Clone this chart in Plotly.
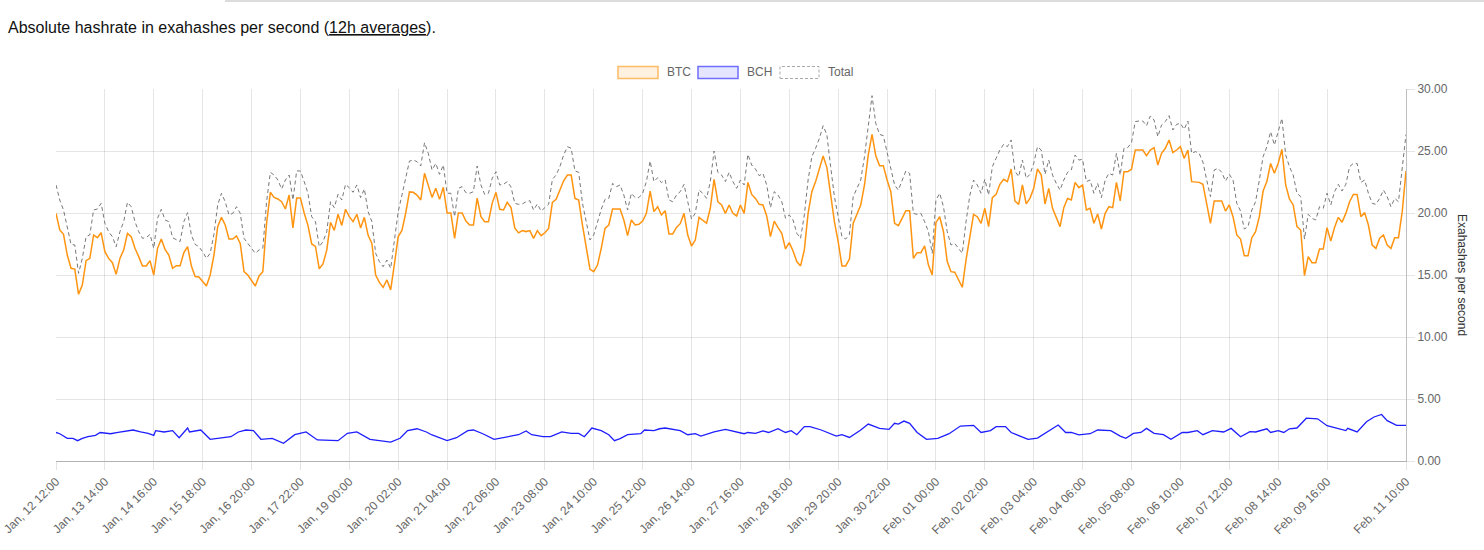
import pandas as pd
import plotly.graph_objects as go

START = "2018-01-12 12:00"

# BTC / Total sampled every 2 hours from START (hours offsets)
btc_hours = list(range(0, 719, 2))

btc = [
    19.97, 18.63, 18.28, 16.61, 15.54, 15.48, 13.44, 14.19, 16.16, 16.34,
    18.23, 18.01, 18.41, 16.88, 16.34, 15.99, 15.05, 16.34, 17.02, 18.36,
    18.09, 17.15, 16.48, 15.73, 15.73, 16.16, 15.0, 17.15, 17.9, 17.07,
    16.61, 15.54, 15.75, 15.75, 16.8, 17.28, 15.73, 14.87, 14.84, 14.46,
    14.11, 15.0, 16.61, 18.9, 19.65, 19.03, 17.9, 17.9, 18.15, 17.55,
    15.27, 15.0, 14.52, 14.11, 14.92, 15.27, 19.17, 21.67, 21.26, 21.13,
    20.91, 20.32, 21.45,
    18.8, 21.2, 21.2, 20.0, 19.0, 17.5, 17.3, 15.5, 15.9, 17.0,
    19.25, 18.6, 19.9, 19.0, 20.3, 19.7, 19.3, 19.9, 18.8, 19.65,
    18.2, 17.55, 15.0, 14.4, 14.0, 14.6, 13.8, 15.9, 18.1, 18.6,
    20.0, 21.7, 21.67, 21.45, 21.05, 23.2, 22.3, 21.26, 22.0, 21.1,
    22.07, 20.0, 20.0, 17.96, 20.0, 20.0, 19.35, 19.03, 19.03, 21.2,
    19.7, 19.3, 19.3, 20.8, 21.67, 20.3, 20.24, 20.86,
    20.43, 18.8, 18.4, 18.58, 18.5, 18.58, 17.96, 18.58, 18.17, 18.41,
    18.76, 20.86, 21.1, 21.9, 22.6, 23.06, 23.06, 21.18, 21.05, 19.03,
    17.15, 15.46, 15.27, 15.8, 17.15, 18.76, 19.03, 20.32, 20.32, 20.32,
    19.44, 18.17, 19.44, 19.03, 19.09, 19.35, 19.97, 21.77, 20.11, 20.51,
    19.84, 20.19, 18.31, 18.31, 18.84, 19.14, 19.97, 18.23, 17.34, 17.82,
    19.65, 19.44, 19.17, 20.38, 22.72, 20.91, 20.65, 19.97, 20.65, 19.97,
    19.76,
    20.65, 19.97, 22.47, 21.5, 21.18, 20.7, 20.65, 19.76, 18.09, 19.35,
    18.82, 18.36, 17.1, 17.61, 16.94, 16.08, 15.73, 17.02, 19.97, 21.72,
    22.53, 23.66, 24.6, 23.66, 21.24, 19.3, 17.69, 15.73, 15.73, 16.29,
    19.17, 19.84, 20.65, 22.26, 24.68, 26.34, 24.62, 23.82, 23.82, 22.66,
    21.72, 19.17, 18.98, 19.57, 20.19, 20.19, 16.34, 16.8, 16.8, 17.34,
    15.8, 15.0, 19.22, 19.7, 18.49, 16.08, 15.27, 15.22, 14.6, 14.01,
    16.21,
    17.9, 19.89, 19.7, 19.17, 20.38, 18.9, 21.24, 21.5, 22.31, 22.72,
    22.53, 23.55, 20.97, 20.7, 22.26, 20.73, 21.18, 21.99, 23.55, 23.06,
    20.73, 21.99, 20.38, 19.57, 18.9, 20.43, 21.18, 21.05, 22.47, 22.04,
    22.26, 20.24, 20.38, 19.17, 19.92, 18.71, 19.97, 20.51, 20.43, 22.47,
    20.97, 23.33, 23.33, 23.52, 25.08, 25.08, 25.08, 24.62, 25.08, 25.27,
    23.87, 24.81, 25.22, 25.89, 24.87, 25.08,
    25.35, 24.41, 25.08, 22.53, 22.53, 22.47, 22.31, 20.78, 19.17, 20.97,
    20.97, 20.97, 20.16, 20.65, 19.7, 18.23, 17.9, 16.56, 16.56, 18.01,
    18.49, 19.7, 21.77, 22.53, 24.0, 23.2, 24.0, 25.13, 22.26, 21.13,
    20.65, 18.9, 18.63, 14.95, 16.48, 15.99, 15.99, 17.1, 17.1, 18.82,
    17.74, 18.84, 19.65, 19.25, 19.97, 20.91, 21.5, 21.5, 19.7, 20.03,
    19.03, 17.42, 17.15, 17.96, 18.23, 17.42, 17.15, 18.01, 18.01, 20.11,
    23.39,
]

total = [
    22.26, 21.05, 20.24, 18.76, 17.47, 17.42, 15.13, 16.34, 18.09, 18.23,
    20.24, 20.32, 20.78, 19.17, 18.49, 18.09, 17.28, 18.49, 19.3, 20.86,
    20.51, 19.3, 18.49, 17.96, 18.01, 18.28, 17.15, 19.57, 20.3, 19.44,
    19.3, 18.01, 17.88, 17.69, 19.3, 20.03, 18.23, 17.47, 17.28, 16.88,
    16.34, 16.75, 18.28, 20.65, 21.59, 20.91, 19.84, 19.97, 20.51, 19.97,
    17.96, 17.55, 17.15, 16.75, 17.02, 17.15, 20.91, 23.28, 23.06, 22.66,
    21.94, 22.66, 23.06,
    21.05, 23.39, 23.39, 22.53, 21.59, 19.7, 19.3, 17.28, 17.69, 18.49,
    20.91, 20.43, 21.5, 21.05, 22.31, 22.04, 21.67, 22.26, 21.24, 21.94,
    20.11, 19.3, 16.75, 16.08, 15.67, 16.21, 15.54, 17.82, 20.11, 21.45,
    22.72, 24.19, 24.27, 24.14, 23.79, 25.67, 24.81, 23.47, 24.0, 23.12,
    23.87, 21.59, 21.59, 19.7, 21.99, 22.12, 21.64, 21.59, 21.72, 23.79,
    22.26, 21.5, 21.59, 22.8, 23.33, 22.26, 22.31, 22.53,
    22.1, 20.78, 20.7, 20.73, 20.91, 21.0, 20.24, 20.73, 20.16, 20.43,
    20.7, 22.72, 23.06, 23.74, 24.68, 25.35, 25.22, 23.39, 23.28, 20.78,
    19.35, 17.82, 18.23, 19.3, 20.3, 21.1, 21.18, 22.39, 22.12, 22.26,
    21.45, 20.24, 21.59, 21.24, 21.24, 21.59, 22.53, 24.19, 22.53, 22.85,
    22.45, 22.66, 21.05, 20.91, 21.45, 21.72, 22.31, 20.91, 19.52, 19.97,
    21.85, 21.59, 21.18, 22.53, 25.0, 23.28, 23.06, 22.53, 23.28, 22.53,
    21.99,
    22.66, 22.26, 24.73, 23.87, 23.55, 23.01, 23.2, 22.26, 20.43, 21.72,
    21.45, 20.91, 19.57, 19.84, 19.44, 18.36, 17.96, 19.84, 22.66, 24.54,
    25.22, 26.02, 27.04, 26.29, 23.74, 21.32, 19.7, 18.09, 17.9, 18.28,
    21.32, 21.99, 22.66, 24.54, 26.96, 29.46, 27.23, 26.34, 26.24, 24.95,
    23.47, 22.26, 21.85, 22.66, 23.39, 23.2, 19.97, 19.89, 19.97, 19.3,
    18.49, 16.75, 21.05, 21.59, 20.51, 18.49, 17.42, 17.55, 17.15, 16.75,
    19.3,
    21.4, 22.66, 22.26, 21.59, 22.72, 21.45, 23.74, 24.41, 25.08, 25.54,
    25.35, 25.89, 23.39, 22.93, 24.27, 22.8, 23.12, 24.0, 25.35, 25.08,
    23.12, 24.27, 23.06, 22.39, 21.85, 22.66, 23.28, 23.47, 24.68, 24.27,
    24.33, 22.53, 22.66, 21.59, 22.39, 21.24, 22.66, 23.2, 23.06, 24.81,
    23.06, 25.22, 25.27, 25.67, 27.37, 27.42, 27.42, 27.04, 27.82, 27.5,
    26.16, 27.1, 27.37, 27.85, 26.69, 27.15,
    27.23, 26.75, 27.42, 24.81, 24.95, 24.81, 24.1, 22.66, 21.32, 23.47,
    23.6, 23.28, 22.58, 23.12, 22.66, 20.78, 20.16, 18.71, 18.9, 20.24,
    20.91, 22.66, 24.54, 25.35, 26.56, 25.48, 26.56, 27.63, 24.68, 23.74,
    23.06, 21.59, 21.32, 17.9, 19.89, 19.57, 19.44, 20.51, 20.38, 21.59,
    20.65, 21.72, 22.31, 21.77, 22.31, 23.74, 24.0, 24.0, 22.47, 22.66,
    21.59, 20.78, 20.7, 21.18, 21.85, 21.32, 20.51, 21.18, 20.91, 23.39,
    26.34,
]

bch_hours = [
    0, 2, 6, 9, 11.5, 14, 17, 21, 23.5, 29, 33, 38, 41, 45, 49, 52, 53, 57.5,
    62, 65.5, 70, 71, 74, 77, 82, 88, 93, 97, 101, 105, 109, 115, 121, 127,
    133, 139, 150, 155, 160, 167, 178, 183, 187, 192, 197, 200, 208, 213,
    219, 222, 227, 233, 240, 246, 250, 253, 259, 263, 269, 274, 278, 281,
    285, 290, 294, 297, 300, 304, 311, 313, 318, 321, 324, 332, 336, 340,
    343, 350, 356, 359, 366, 368, 372, 376, 379, 384, 388, 391, 394, 398,
    401, 407, 411, 415, 418, 422, 428, 432, 438, 443, 446, 448, 451, 454,
    458, 463, 469, 475, 481, 488, 492, 497, 500, 505, 508, 517, 522, 529,
    533, 537, 540, 544, 550, 554, 561, 566, 569, 573, 577, 580, 584, 589,
    593, 599, 602, 607, 610, 615, 621, 625, 630, 635, 638, 644, 646, 650,
    653, 656, 660, 665, 671, 676, 681, 686, 687, 692, 697, 701, 705, 708,
    713, 718,
]
bch = [
    2.30, 2.2, 1.83, 1.83, 1.64, 1.83, 1.96, 2.07, 2.3, 2.2, 2.3, 2.45, 2.5,
    2.34, 2.23, 2.07, 2.45, 2.34, 2.45, 1.88, 2.66, 2.34, 2.45, 2.5, 1.75,
    1.85, 1.96, 2.34, 2.5, 2.45, 1.75, 1.83, 1.43, 2.12, 2.34, 1.7, 1.64,
    2.23, 2.34, 1.75, 1.53, 1.83, 2.45, 2.6, 2.34, 2.1, 1.64, 1.88, 2.45,
    2.5, 2.2, 1.75, 1.96, 2.12, 2.42, 2.12, 1.96, 1.96, 2.34, 2.23, 2.23,
    1.96, 2.66, 2.45, 2.12, 1.64, 1.8, 2.12, 2.2, 2.5, 2.45, 2.6, 2.66,
    2.45, 2.12, 2.2, 2.01, 2.34, 2.55, 2.45, 2.2, 2.3, 2.23, 2.42, 2.3,
    2.6, 2.3, 2.45, 2.12, 2.77, 2.77, 2.5, 2.23, 2.01, 2.12, 1.9, 2.5,
    2.98, 2.63, 2.55, 3.04, 2.98, 3.22, 3.04, 2.3, 1.75, 1.83, 2.2, 2.82,
    2.88, 2.3, 2.45, 2.77, 2.77, 2.3, 1.75, 1.85, 2.5, 2.9, 2.3, 2.3, 2.1,
    2.2, 2.5, 2.45, 2.01, 1.83, 2.23, 2.3, 2.63, 2.23, 2.12, 1.75, 2.3,
    2.3, 2.45, 2.12, 2.45, 2.34, 2.63, 1.96, 2.37, 2.34, 2.6, 2.3, 2.45,
    2.3, 2.6, 2.66, 3.45, 3.4, 2.85, 2.66, 2.45, 2.63, 2.34, 3.17, 3.55,
    3.75, 3.25, 2.88, 2.88,
]

tick_labels = [
    "Jan, 12 12:00", "Jan, 13 14:00", "Jan, 14 16:00", "Jan, 15 18:00",
    "Jan, 16 20:00", "Jan, 17 22:00", "Jan, 19 00:00", "Jan, 20 02:00",
    "Jan, 21 04:00", "Jan, 22 06:00", "Jan, 23 08:00", "Jan, 24 10:00",
    "Jan, 25 12:00", "Jan, 26 14:00", "Jan, 27 16:00", "Jan, 28 18:00",
    "Jan, 29 20:00", "Jan, 30 22:00", "Feb, 01 00:00", "Feb, 02 02:00",
    "Feb, 03 04:00", "Feb, 04 06:00", "Feb, 05 08:00", "Feb, 06 10:00",
    "Feb, 07 12:00", "Feb, 08 14:00", "Feb, 09 16:00", "Feb, 11 10:00",
]

start = pd.Timestamp(START)
tick_dates = [pd.to_datetime("2018 " + t, format="%Y %b, %d %H:%M") for t in tick_labels]
x_main = [start + pd.Timedelta(hours=h) for h in btc_hours]
x_bch = [start + pd.Timedelta(hours=h) for h in bch_hours]

BTC_COLOR = "rgb(255,148,16)"
BCH_COLOR = "rgb(30,30,255)"
TOT_COLOR = "rgb(120,120,120)"

fig = go.Figure()
fig.add_trace(go.Scatter(x=x_main, y=total, mode="lines", name="Total",
                         line=dict(color=TOT_COLOR, width=1, dash="4px,3px")))
fig.add_trace(go.Scatter(x=x_main, y=btc, mode="lines", name="BTC",
                         line=dict(color=BTC_COLOR, width=1.5)))
fig.add_trace(go.Scatter(x=x_bch, y=bch, mode="lines", name="BCH",
                         line=dict(color=BCH_COLOR, width=1.3)))

L, R, T, B = 56, 78, 89, 89
W, H = 1484, 550
PW, PH = W - L - R, H - T - B


def px(xp):
    return (xp - L) / PW


def py(yp):
    return (H - B - yp) / PH


FONT = "Liberation Sans, Arial, Helvetica, sans-serif"
shapes = [
    dict(type="line", xref="paper", yref="paper", x0=px(225), x1=px(1484),
         y0=py(1), y1=py(1), line=dict(color="#dcdcdc", width=2)),
    dict(type="rect", xref="paper", yref="paper", x0=px(618), x1=px(658),
         y0=py(78.5), y1=py(66.5), fillcolor="#fff1e0",
         line=dict(color="#ffba66", width=1.5)),
    dict(type="rect", xref="paper", yref="paper", x0=px(698), x1=px(738),
         y0=py(78.5), y1=py(66.5), fillcolor="#e5e5ff",
         line=dict(color="#6f6fff", width=1.5)),
    dict(type="rect", xref="paper", yref="paper", x0=px(780), x1=px(819),
         y0=py(78.5), y1=py(66.5), fillcolor="rgba(0,0,0,0)",
         line=dict(color="#aaaaaa", width=1, dash="3px,2px")),
]

annotations = [
    dict(xref="paper", yref="paper", x=px(6), y=py(28), xanchor="left",
         yanchor="middle", showarrow=False,
         text="Absolute hashrate in exahashes per second (<span style='text-decoration:underline'>12h averages</span>).",
         font=dict(family=FONT, size=16, color="#111")),
    dict(xref="paper", yref="paper", x=px(665), y=py(72.5), xanchor="left",
         yanchor="middle", showarrow=False, text="BTC",
         font=dict(family=FONT, size=12, color="#666")),
    dict(xref="paper", yref="paper", x=px(745), y=py(72.5), xanchor="left",
         yanchor="middle", showarrow=False, text="BCH",
         font=dict(family=FONT, size=12, color="#666")),
    dict(xref="paper", yref="paper", x=px(826), y=py(72.5), xanchor="left",
         yanchor="middle", showarrow=False, text="Total",
         font=dict(family=FONT, size=12, color="#666")),
    dict(xref="paper", yref="paper", x=px(1462), y=0.5, xanchor="center",
         yanchor="middle", showarrow=False, textangle=90,
         text="Exahashes per second",
         font=dict(family=FONT, size=12, color="#333")),
]

GRID = "rgba(0,0,0,0.1)"
fig.update_layout(
    width=W, height=H,
    margin=dict(l=L, r=R, t=T, b=B, autoexpand=False),
    paper_bgcolor="white", plot_bgcolor="white",
    showlegend=False,
    shapes=shapes,
    annotations=annotations,
    font=dict(family=FONT, size=12, color="#666"),
    xaxis=dict(
        type="date", range=[tick_dates[0], tick_dates[-1]],
        tickmode="array", tickvals=tick_dates, ticktext=tick_labels,
        tickangle=-45, showgrid=True, gridcolor=GRID, gridwidth=1,
        ticks="outside", ticklen=8, tickcolor=GRID,
        showline=True, linecolor="rgba(0,0,0,0.3)", linewidth=1,
        zeroline=False, automargin=False,
        tickfont=dict(family=FONT, size=12, color="#666"),
    ),
    yaxis=dict(
        side="right", range=[0, 30], tickmode="array",
        tickvals=[0, 5, 10, 15, 20, 25, 30], tickformat=".2f",
        showgrid=True, gridcolor=GRID, gridwidth=1,
        ticks="outside", ticklen=8, tickcolor=GRID,
        showline=True, linecolor="rgba(0,0,0,0.25)", linewidth=1,
        zeroline=False, automargin=False,
        tickfont=dict(family=FONT, size=12, color="#666"),
    ),
)

fig.write_html("out.html")
